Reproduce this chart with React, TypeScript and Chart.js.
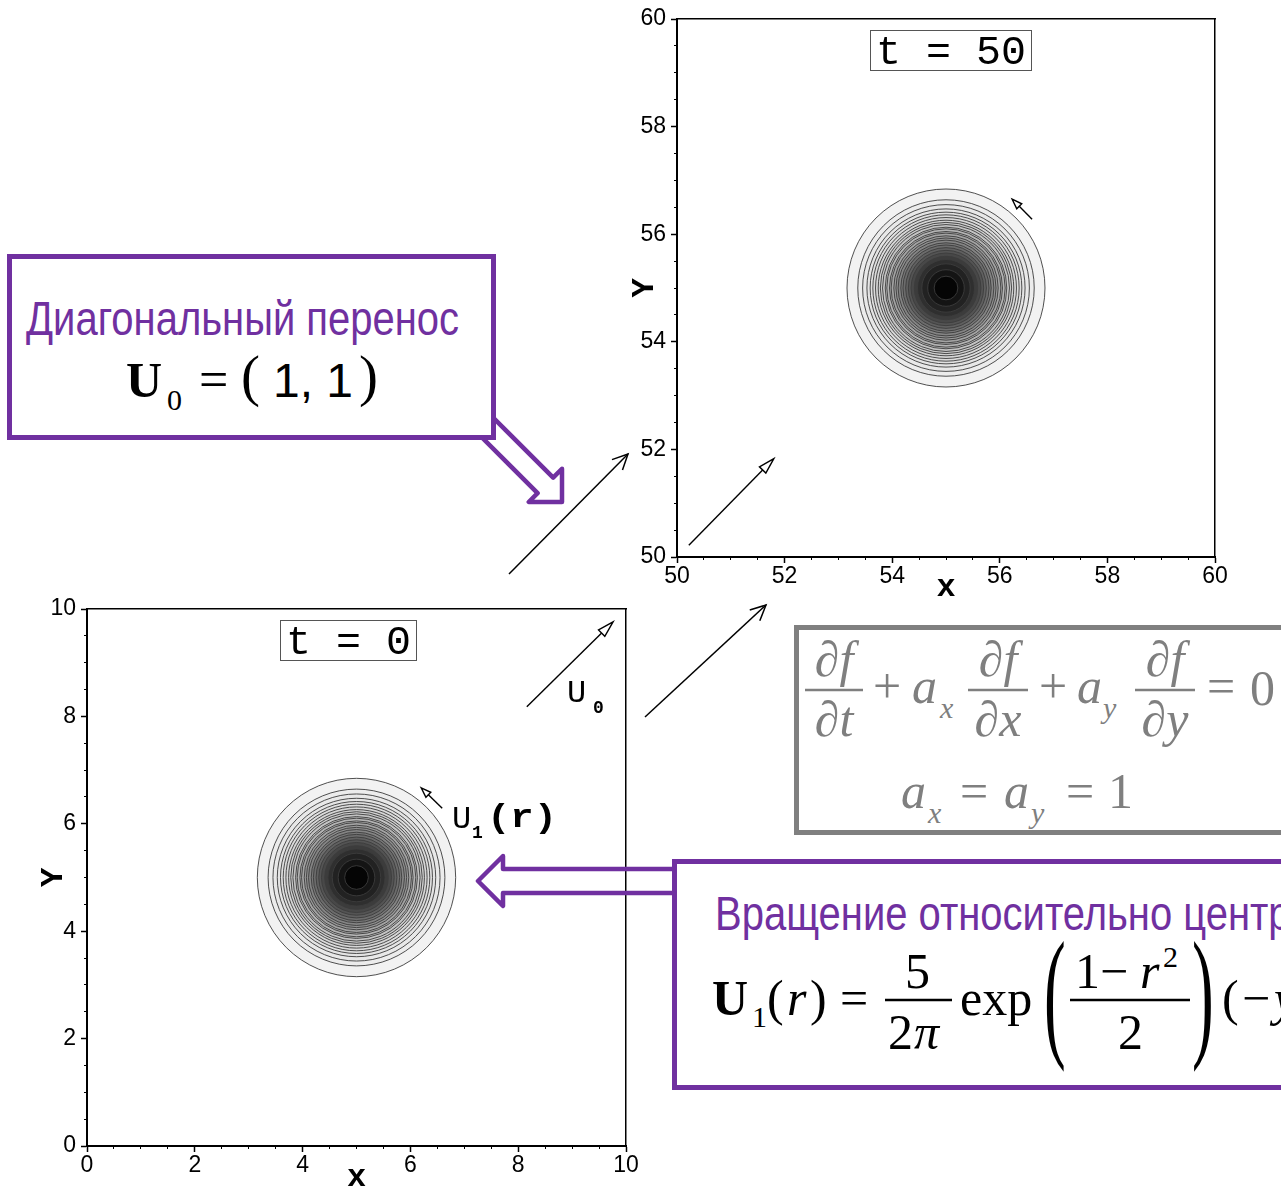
import React, { useEffect, useRef } from "react";
import { Chart, registerables } from "chart.js";

Chart.register(...registerables);

// ---------------- data ----------------
const bottomRange = [0, 10];
const topRange = [50, 60];
const majorStep = 2;
const minorStep = 0.5;
// contour radii (data units), outermost first, and the grey level of each band
const contourRadii = [1.84, 1.64, 1.55, 1.47, 1.41, 1.36, 1.31, 1.26, 1.22, 1.18, 1.13, 1.1, 1.05, 1.02, 0.97, 0.93, 0.89, 0.84, 0.8, 0.75, 0.7, 0.65, 0.59, 0.53, 0.45, 0.34, 0.22];
const contourGray = [242, 236, 232, 228, 224, 219, 214, 208, 202, 195, 188, 180, 172, 163, 153, 143, 132, 120, 108, 96, 84, 72, 60, 47, 34, 20, 5];
const centerT0 = [5, 5];
const centerT50 = [55, 55];
// vectors: [x0, y0, x1, y1]
const vectorsT0 = [
  [8.16, 8.18, 9.76, 9.76],
  [6.59, 6.29, 6.2, 6.67],
];
const vectorsT50 = [
  [50.22, 50.22, 51.8, 51.83],
  [56.6, 56.28, 56.23, 56.65],
];
const labelT0 = "t = 0";
const labelT50 = "t = 50";
const xTitle = "x";
const yTitle = "Y";
const box1Title = "Диагональный перенос";
const box2Title = "Вращение относительно центра";

// ---------------- chart ----------------
const vectorPlugin = {
  id: "vectorArrows",
  afterDatasetsDraw(chart: any, _a: any, opts: any) {
    const { ctx } = chart;
    const sx = chart.scales.x;
    const sy = chart.scales.y;
    (opts.vectors || []).forEach((v: number[], i: number) => {
      const x0 = sx.getPixelForValue(v[0]);
      const y0 = sy.getPixelForValue(v[1]);
      const x1 = sx.getPixelForValue(v[2]);
      const y1 = sy.getPixelForValue(v[3]);
      const hl = opts.headLen[i];
      const hw = opts.headHalf[i];
      const ang = Math.atan2(y1 - y0, x1 - x0);
      const dx = Math.cos(ang);
      const dy = Math.sin(ang);
      const bx = x1 - dx * hl;
      const by = y1 - dy * hl;
      ctx.save();
      ctx.strokeStyle = "#000";
      ctx.lineWidth = 1.4;
      ctx.beginPath();
      ctx.moveTo(x0, y0);
      ctx.lineTo(bx, by);
      ctx.stroke();
      ctx.beginPath();
      ctx.moveTo(x1, y1);
      ctx.lineTo(bx - dy * hw, by + dx * hw);
      ctx.lineTo(bx + dy * hw, by - dx * hw);
      ctx.closePath();
      ctx.fillStyle = "#fff";
      ctx.fill();
      ctx.stroke();
      ctx.restore();
    });
  },
};

const tickFont = { family: "'Liberation Sans', Arial, sans-serif", size: 23, lineHeight: 1 };
const titleFont = { family: "'Liberation Mono', 'Courier New', monospace", size: 32, weight: "bold" as const, lineHeight: 1 };

type Geo = {
  left: number; top: number; w: number; h: number;
  pad: { left: number; top: number; right: number; bottom: number };
  yAxisW: number; xAxisH: number; yTitlePad: number; xTitlePad: number;
};

function makeConfig(range: number[], center: number[], vectors: number[][], g: Geo): any {
  const [min, max] = range;
  const minorAxis = (pos: string, horizontal: boolean) => ({
    type: "linear", position: pos, min, max, weight: 0,
    ticks: { display: false, stepSize: minorStep },
    grid: { display: true, drawOnChartArea: false, drawTicks: true, tickLength: 3, tickColor: "#000", tickWidth: 1 },
    border: { display: false },
    afterFit: (s: any) => { if (horizontal) s.height = 0; else s.width = 0; },
  });
  const frameAxis = (pos: string, horizontal: boolean) => ({
    type: "linear", position: pos, min, max,
    ticks: { display: false },
    grid: { display: true, drawOnChartArea: false, drawTicks: false },
    border: { display: true, color: "#000", width: 1.5 },
    afterFit: (s: any) => { if (horizontal) s.height = 0; else s.width = 0; },
  });
  const radiusPx = (c: any) => {
    const sc = c.chart.scales.x;
    if (!c.raw || !sc) return 0;
    return Math.abs(sc.getPixelForValue(center[0] + c.raw.r) - sc.getPixelForValue(center[0]));
  };
  return {
    type: "scatter",
    data: {
      datasets: [
        {
          data: contourRadii.map((r) => ({ x: center[0], y: center[1], r })),
          pointRadius: radiusPx,
          pointHoverRadius: radiusPx,
          pointBackgroundColor: (c: any) => {
            const v = contourGray[c.dataIndex] ?? 255;
            return `rgb(${v},${v},${v})`;
          },
          pointBorderColor: "#3c3c3c",
          pointBorderWidth: 0.9,
        },
      ],
    },
    plugins: [vectorPlugin],
    options: {
      animation: false,
      responsive: false,
      maintainAspectRatio: false,
      devicePixelRatio: 1,
      events: [],
      layout: { padding: g.pad },
      plugins: {
        legend: { display: false },
        tooltip: { enabled: false },
        vectorArrows: { vectors, headLen: [16, 10], headHalf: [4.5, 3.5] },
      },
      scales: {
        x: {
          type: "linear", position: "bottom", min, max, weight: 1,
          ticks: { stepSize: majorStep, autoSkip: false, maxRotation: 0, color: "#000", font: tickFont, padding: 2 },
          grid: { display: true, drawOnChartArea: false, drawTicks: true, tickLength: 6, tickColor: "#000", tickWidth: 1.5 },
          border: { display: true, color: "#000", width: 2 },
          title: { display: true, text: xTitle, color: "#000", font: titleFont, padding: { top: 0, bottom: g.xTitlePad } },
          afterFit: (s: any) => { s.height = g.xAxisH; },
        },
        xMinor: minorAxis("bottom", true),
        xTop: frameAxis("top", true),
        y: {
          type: "linear", position: "left", min, max, weight: 1,
          ticks: { stepSize: majorStep, autoSkip: false, color: "#000", font: tickFont, padding: 5 },
          grid: { display: true, drawOnChartArea: false, drawTicks: true, tickLength: 6, tickColor: "#000", tickWidth: 1.5 },
          border: { display: true, color: "#000", width: 2 },
          title: { display: true, text: yTitle, color: "#000", font: titleFont, padding: { top: g.yTitlePad, bottom: 0 } },
          afterFit: (s: any) => { s.width = g.yAxisW; },
        },
        yMinor: minorAxis("left", false),
        yRight: frameAxis("right", false),
      },
    },
  };
}

function ContourChart({ range, center, vectors, g }: { range: number[]; center: number[]; vectors: number[][]; g: Geo }) {
  const ref = useRef<HTMLCanvasElement>(null);
  useEffect(() => {
    const chart = new Chart(ref.current as HTMLCanvasElement, makeConfig(range, center, vectors, g));
    return () => chart.destroy();
  }, []);
  return (
    <canvas
      ref={ref}
      width={g.w}
      height={g.h}
      style={{ position: "absolute", left: g.left, top: g.top, width: g.w, height: g.h }}
    />
  );
}

const geoBottom: Geo = {
  left: 0, top: 580, w: 680, h: 630,
  pad: { left: 0, top: 29, right: 54, bottom: 0 },
  yAxisW: 87, xAxisH: 64, yTitlePad: 38, xTitlePad: 16,
};
const geoTop: Geo = {
  left: 600, top: 0, w: 681, h: 620,
  pad: { left: 0, top: 19, right: 66, bottom: 0 },
  yAxisW: 77, xAxisH: 63, yTitlePad: 29, xTitlePad: 16,
};

// ---------------- overlay helpers ----------------
const PURPLE = "#7030A0";
const GREYTXT = "#7f7f7f";
const SERIF = "'Liberation Serif', 'Times New Roman', serif";
const SANS = "'Liberation Sans', Arial, sans-serif";
const MONO = "'Liberation Mono', 'Courier New', monospace";

function blockArrow(tx: number, ty: number, px: number, py: number, sw: number, hw: number, hl: number) {
  const L = Math.hypot(px - tx, py - ty);
  const dx = (px - tx) / L;
  const dy = (py - ty) / L;
  const nx = -dy;
  const ny = dx;
  const bx = px - dx * hl;
  const by = py - dy * hl;
  const pts = [
    [tx + nx * sw / 2, ty + ny * sw / 2],
    [bx + nx * sw / 2, by + ny * sw / 2],
    [bx + nx * hw / 2, by + ny * hw / 2],
    [px, py],
    [bx - nx * hw / 2, by - ny * hw / 2],
    [bx - nx * sw / 2, by - ny * sw / 2],
    [tx - nx * sw / 2, ty - ny * sw / 2],
  ];
  return pts.map((p) => p.join(",")).join(" ");
}

function lineArrow(x0: number, y0: number, x1: number, y1: number) {
  const a = Math.atan2(y1 - y0, x1 - x0);
  const len = 17;
  const spread = 0.45;
  const b1 = [x1 - len * Math.cos(a - spread), y1 - len * Math.sin(a - spread)];
  const b2 = [x1 - len * Math.cos(a + spread), y1 - len * Math.sin(a + spread)];
  return (
    <g stroke="#000" strokeWidth={1.5} fill="none">
      <line x1={x0} y1={y0} x2={x1} y2={y1} />
      <polyline points={`${b1[0]},${b1[1]} ${x1},${y1} ${b2[0]},${b2[1]}`} />
    </g>
  );
}

function measureText(text: string, font: string) {
  const c = document.createElement("canvas").getContext("2d");
  if (!c) return text.length * 20;
  c.font = font;
  return c.measureText(text).width;
}

function Overlay() {
  const f48 = `48px ${SANS}`;
  const t1Len = 433;
  const t2Len = (measureText(box2Title, f48) / measureText(box1Title, f48)) * t1Len;
  return (
    <svg width={1281} height={1189} style={{ position: "absolute", left: 0, top: 0 }}>
      {/* thin arrows between plots */}
      {lineArrow(509, 574, 628, 454)}
      {lineArrow(645, 717, 766, 605)}

      {/* purple block arrows */}
      <polygon points={blockArrow(468, 408, 562, 502, 22, 47, 23.5)} fill="none" stroke={PURPLE} strokeWidth={4.5} strokeLinejoin="round" />
      <polygon points={blockArrow(700, 881, 478, 881, 24, 50, 25)} fill="none" stroke={PURPLE} strokeWidth={4.5} strokeLinejoin="round" />

      {/* box 1 */}
      <rect x={9.5} y={256.5} width={484} height={181} fill="#fff" stroke={PURPLE} strokeWidth={5} />
      <text x={26} y={335} fontFamily={SANS} fontSize={48} fill={PURPLE} textLength={t1Len} lengthAdjust="spacingAndGlyphs">{box1Title}</text>
      <text x={126} y={397} fontFamily={SERIF} fontSize={50} fontWeight="bold" fill="#000">U</text>
      <text x={167} y={410} fontFamily={SERIF} fontSize={30} fill="#000">0</text>
      <text x={199} y={397} fontFamily={SERIF} fontSize={52} fill="#000">=</text>
      <text x={241} y={395} fontFamily={SERIF} fontSize={57} fill="#000">(</text>
      <text x={273} y={397} fontFamily={SANS} fontSize={48} fill="#000">1, 1</text>
      <text x={359} y={395} fontFamily={SERIF} fontSize={57} fill="#000">)</text>

      {/* grey equation box */}
      <rect x={796.5} y={627.5} width={600} height={205} fill="#fff" stroke="#808080" strokeWidth={5} />
      <g fill={GREYTXT} fontFamily={SERIF} fontSize={50}>
        <text x={834} y={676} textAnchor="middle" fontStyle="italic">∂f</text>
        <text x={834} y={736} textAnchor="middle" fontStyle="italic">∂t</text>
        <text x={873} y={703}>+</text>
        <text x={912} y={703} fontStyle="italic">a</text>
        <text x={940} y={718} fontSize={30} fontStyle="italic">x</text>
        <text x={998} y={676} textAnchor="middle" fontStyle="italic">∂f</text>
        <text x={998} y={736} textAnchor="middle" fontStyle="italic">∂x</text>
        <text x={1039} y={703}>+</text>
        <text x={1077} y={703} fontStyle="italic">a</text>
        <text x={1103} y={718} fontSize={30} fontStyle="italic">y</text>
        <text x={1165} y={676} textAnchor="middle" fontStyle="italic">∂f</text>
        <text x={1165} y={736} textAnchor="middle" fontStyle="italic">∂y</text>
        <text x={1207} y={703}>=</text>
        <text x={1250} y={705}>0</text>
        <text x={901} y={808} fontStyle="italic">a</text>
        <text x={928} y={823} fontSize={30} fontStyle="italic">x</text>
        <text x={960} y={808}>=</text>
        <text x={1004} y={808} fontStyle="italic">a</text>
        <text x={1031} y={823} fontSize={30} fontStyle="italic">y</text>
        <text x={1066} y={808}>=</text>
        <text x={1108} y={808}>1</text>
      </g>
      <g stroke={GREYTXT} strokeWidth={2.5}>
        <line x1={805} y1={690} x2={863} y2={690} />
        <line x1={968} y1={690} x2={1028} y2={690} />
        <line x1={1135} y1={690} x2={1195} y2={690} />
      </g>

      {/* box 2 */}
      <rect x={674.5} y={861.5} width={700} height={226} fill="#fff" stroke={PURPLE} strokeWidth={5} />
      <text x={715} y={930} fontFamily={SANS} fontSize={48} fill={PURPLE} textLength={t2Len} lengthAdjust="spacingAndGlyphs">{box2Title}</text>
      <g fill="#000" fontFamily={SERIF} fontSize={50}>
        <text x={712} y={1015} fontWeight="bold">U</text>
        <text x={752} y={1027} fontSize={30}>1</text>
        <text x={767} y={1015}>(</text>
        <text x={787} y={1015} fontStyle="italic">r</text>
        <text x={810} y={1015}>)</text>
        <text x={840} y={1015}>=</text>
        <text x={905} y={988}>5</text>
        <text x={888} y={1049}>2</text>
        <text x={914} y={1049} fontStyle="italic">π</text>
        <text x={960} y={1015}>exp</text>
        <text x={0} y={0} fontSize={145} transform="translate(1044,1041) scale(0.45,1)">(</text>
        <text x={1075} y={988}>1</text>
        <text x={1100} y={988}>−</text>
        <text x={1140} y={988} fontStyle="italic">r</text>
        <text x={1163} y={967} fontSize={30}>2</text>
        <text x={1118} y={1049}>2</text>
        <text x={0} y={0} fontSize={145} transform="translate(1192,1041) scale(0.45,1)">)</text>
        <text x={1222} y={1015}>(</text>
        <text x={1242} y={1015}>−</text>
        <text x={1274} y={1015} fontStyle="italic">y</text>
        <text x={1298} y={1015}>, </text>
        <text x={1318} y={1015} fontStyle="italic">x</text>
        <text x={1342} y={1015}>)</text>
      </g>
      <g stroke="#000" strokeWidth={2.5}>
        <line x1={885} y1={1000} x2={952} y2={1000} />
        <line x1={1070} y1={1000} x2={1190} y2={1000} />
      </g>

      {/* labels inside plots */}
      <rect x={280.5} y={620.5} width={136} height={40} fill="#fff" stroke="#555" strokeWidth={1} />
      <text x={286} y={654} fontFamily={MONO} fontSize={40} fill="#000" textLength={125} lengthAdjust="spacingAndGlyphs">{labelT0}</text>
      <rect x={870.5} y={30.5} width={161} height={40} fill="#fff" stroke="#555" strokeWidth={1} />
      <text x={876} y={64} fontFamily={MONO} fontSize={40} fill="#000" textLength={150} lengthAdjust="spacingAndGlyphs">{labelT50}</text>

      <text x={567} y={702} fontFamily={MONO} fontSize={32} fill="#000">U</text>
      <text x={593} y={713} fontFamily={MONO} fontSize={18} fill="#000" fontWeight="bold">0</text>
      <text x={452} y={828} fontFamily={MONO} fontSize={32} fill="#000">U</text>
      <text x={472} y={838} fontFamily={MONO} fontSize={18} fill="#000" fontWeight="bold">1</text>
      <text x={487} y={827} fontFamily={MONO} fontSize={34} fontWeight="bold" fill="#000" textLength={70} lengthAdjust="spacingAndGlyphs">(r)</text>
    </svg>
  );
}

export default function App() {
  return (
    <div style={{ position: "absolute", left: 0, top: 0, width: 1281, height: 1189, overflow: "hidden", background: "#fff" }}>
      <ContourChart range={bottomRange} center={centerT0} vectors={vectorsT0} g={geoBottom} />
      <ContourChart range={topRange} center={centerT50} vectors={vectorsT50} g={geoTop} />
      <Overlay />
    </div>
  );
}
